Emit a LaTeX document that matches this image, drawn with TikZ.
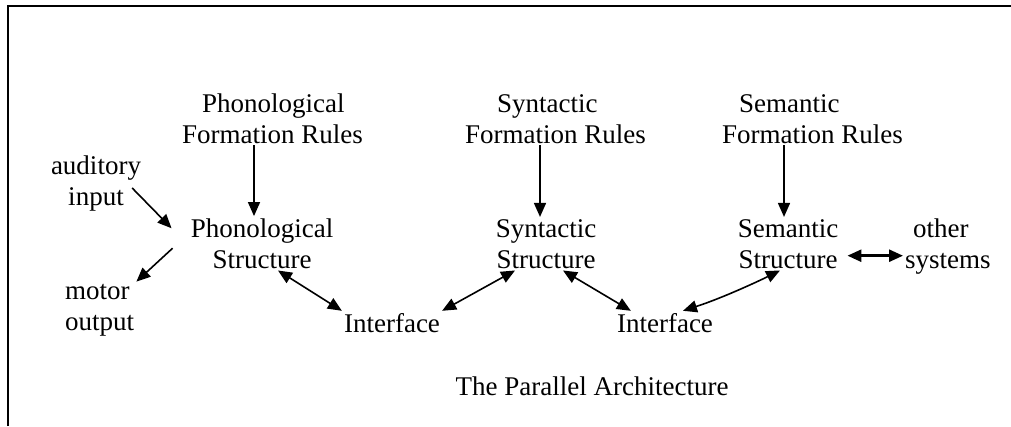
\documentclass[tikz,border=0pt]{standalone}
\usepackage{fontspec}
\setmainfont{Liberation Serif}
\usetikzlibrary{arrows.meta,calc,positioning}

\tikzset{
  every node/.style={font=\fontsize{27}{31}\selectfont, inner sep=2pt},
  rules/.style={align=left, anchor=base west},
  struct/.style={align=center, anchor=base},
  link/.style={line width=1.6pt},
}

\begin{document}
\begin{tikzpicture}[x=1pt,y=-1pt,>={Triangle[length=14pt,width=12pt]}]

\useasboundingbox (0,0) rectangle (1011,426);
\fill[white] (0,0) rectangle (1011,426);
\draw[line width=2.5pt] (8,426) -- (8,6) -- (1011,6);

% formation rules
\node[rules] (phonFR) at (180,143) {\hspace*{20pt}Phonological\\Formation Rules};
\node[rules] (synFR) at (463,143) {\hspace*{32pt}Syntactic\\Formation Rules};
\node[rules] (semFR) at (720,143) {\hspace*{17pt}Semantic\\Formation Rules};

% structures
\node[struct] (phonS) at (262,268) {Phonological\\Structure};
\node[struct] (synS) at (546,268) {Syntactic\\Structure};
\node[struct] (semS) at (788,268) {Semantic\\Structure};

\node[struct] (audio) at (96,205) {auditory\\input};
\node[rules] (motor) at (63,330) {motor\\output};
\node[rules] (other) at (903,268) {\hspace*{8pt}other\\systems};

\node[struct] (int1) at (392,332) {Interface};
\node[struct] (int2) at (665,332) {Interface};

\node[struct] (title) at (592,395) {The Parallel Architecture};

% arrows
\draw[link,->] (phonFR.south -| phonS.north) ++(-8,0) -- ([xshift=-8pt]phonS.north);
\draw[link,->] (synFR.south -| synS.north) ++(-6,0) -- ([xshift=-6pt]synS.north);
\draw[link,->] (semFR.south -| semS.north) ++(-4,0) -- ([xshift=-4pt]semS.north);

\draw[link,->] ($(audio.east)+(-11,5)$) -- ($(phonS.west)+(-17,-15)$);
\draw[link,->] ($(phonS.west)+(-16,5)$) -- (motor.north east);

\draw[link,<->] ([xshift=16pt]phonS.south) -- (int1.north west);
\draw[link,<->] (int1.north east) -- ([xshift=-31pt]synS.south);
\draw[link,<->] ([xshift=17pt]synS.south) -- ([xshift=16pt]int2.north west);
\draw[link,<->] ([xshift=18pt]int2.north) .. controls +(40,-13) and +(-20,10) .. ([xshift=-8pt]semS.south);

\draw[line width=2.6pt,<->] ($(semS.east)+(7,12)$) -- ($(semS.east -| other.west)+(0,12)$);

\end{tikzpicture}
\end{document}
